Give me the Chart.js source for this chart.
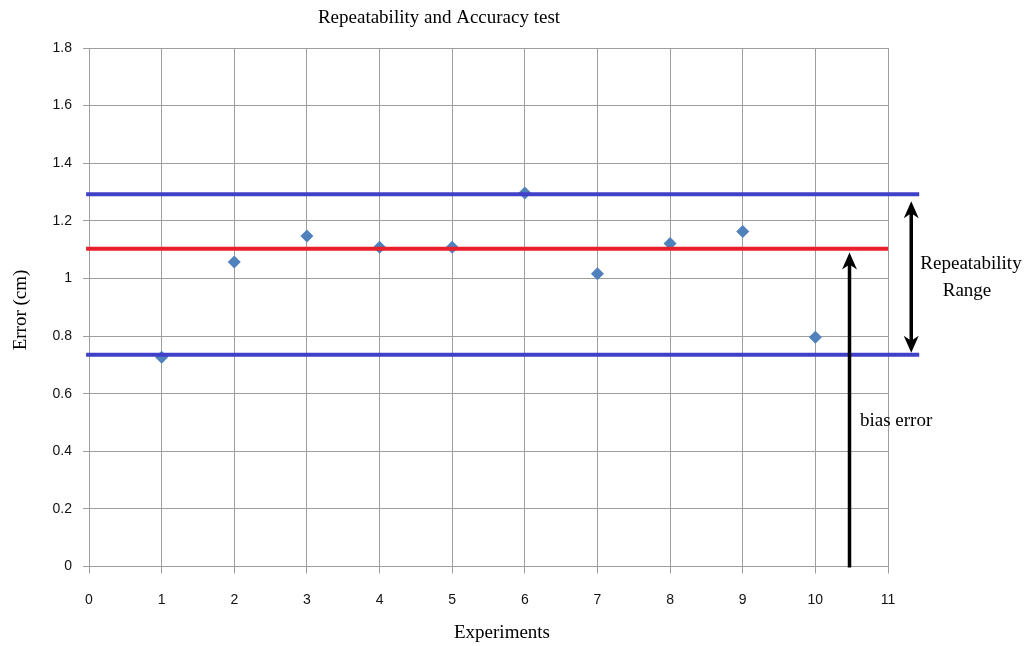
<!DOCTYPE html>
<html>
<head>
<meta charset="utf-8">
<title>Repeatability and Accuracy test</title>
<script src="https://cdn.jsdelivr.net/npm/chart.js@4/dist/chart.umd.min.js"></script>
<style>
  html, body { margin: 0; padding: 0; background: #ffffff; }
  #wrap { width: 1027px; height: 646px; position: relative; }
</style>
</head>
<body>
<div id="wrap"><canvas id="chart" width="1027" height="646"></canvas></div>
<script>
// Measured error for each experiment (cm)
const experiments = [1, 2, 3, 4, 5, 6, 7, 8, 9, 10];
const errors = [0.726, 1.057, 1.147, 1.108, 1.108, 1.297, 1.016, 1.121, 1.163, 0.796];

// Reference levels: upper / lower repeatability bound and mean (bias) level
const upperBound = 1.292;
const biasLevel = 1.103;
const lowerBound = 0.735;

// Horizontal extents of the reference lines (x units)
const boundSpan = [-0.04, 11.43];
const biasSpan = [-0.04, 11];

// Axis ticks
const xTicks = [0, 1, 2, 3, 4, 5, 6, 7, 8, 9, 10, 11];
const yTicks = [0, 0.2, 0.4, 0.6, 0.8, 1, 1.2, 1.4, 1.6, 1.8];

// Annotation arrows: x position and [from, to] in data units
const rangeArrow = { x: 11.32, from: 1.268, to: 0.742 };
const biasArrow = { x: 10.47, from: 0, to: 1.09 };

const serif = '"Liberation Serif", "Times New Roman", serif';
const sans = '"Liberation Sans", Arial, sans-serif';

function drawArrowHead(ctx, x, y, dir) {
  // dir: -1 points up, +1 points down
  const w = 7.5, len = 17;
  ctx.beginPath();
  ctx.moveTo(x, y);
  ctx.lineTo(x - w, y - dir * len);
  ctx.lineTo(x, y - dir * (len - 5));
  ctx.lineTo(x + w, y - dir * len);
  ctx.closePath();
  ctx.fill();
}

const annotations = {
  id: 'annotations',
  afterDraw(chart) {
    const ctx = chart.ctx;
    const xs = chart.scales.x, ys = chart.scales.y;
    ctx.save();
    ctx.fillStyle = '#000';
    ctx.strokeStyle = '#000';
    ctx.lineWidth = 3.5;

    // Double-headed arrow marking the repeatability range
    let ax = xs.getPixelForValue(rangeArrow.x);
    let yTop = ys.getPixelForValue(rangeArrow.from);
    let yBot = ys.getPixelForValue(rangeArrow.to);
    ctx.beginPath();
    ctx.moveTo(ax, yTop + 8);
    ctx.lineTo(ax, yBot - 8);
    ctx.stroke();
    drawArrowHead(ctx, ax, yTop, -1);
    drawArrowHead(ctx, ax, yBot, 1);

    // Single arrow from zero up to the mean level (bias)
    let bx = xs.getPixelForValue(biasArrow.x);
    let b0 = ys.getPixelForValue(biasArrow.from);
    let b1 = ys.getPixelForValue(biasArrow.to);
    ctx.beginPath();
    ctx.moveTo(bx, b0 + 1);
    ctx.lineTo(bx, b1 + 8);
    ctx.stroke();
    drawArrowHead(ctx, bx, b1, -1);

    // Texts
    ctx.fillStyle = '#000';
    ctx.font = '19px ' + serif;
    ctx.textBaseline = 'middle';
    ctx.textAlign = 'center';
    ctx.fillText('Repeatability and Accuracy test', 439, 18);
    ctx.fillText('Experiments', 502, 633);
    ctx.fillText('Repeatability', 971, 264);
    ctx.fillText('Range', 967, 291);
    ctx.textAlign = 'left';
    ctx.fillText('bias error', 860, 421);

    ctx.translate(21, 310);
    ctx.rotate(-Math.PI / 2);
    ctx.textAlign = 'center';
    ctx.fillText('Error (cm)', 0, 0);
    ctx.restore();
  }
};

function hLine(level, span, color) {
  return {
    type: 'line',
    data: [{ x: span[0], y: level }, { x: span[1], y: level }],
    borderColor: color,
    borderWidth: 4,
    pointRadius: 0,
    fill: false,
    clip: false,
    order: 0
  };
}

new Chart(document.getElementById('chart'), {
  type: 'scatter',
  data: {
    datasets: [
      {
        data: experiments.map((x, i) => ({ x: x, y: errors[i] })),
        pointStyle: 'rectRot',
        pointRadius: 6.5,
        backgroundColor: '#4f81bd',
        borderColor: '#4f81bd',
        borderWidth: 0,
        order: 1
      },
      hLine(upperBound, boundSpan, '#4040c8'),
      hLine(lowerBound, boundSpan, '#4040c8'),
      hLine(biasLevel, biasSpan, '#e8202a')
    ]
  },
  options: {
    responsive: false,
    animation: false,
    events: [],
    layout: { padding: { left: 0, top: 48, right: 139, bottom: 0 } },
    plugins: {
      legend: { display: false },
      title: { display: false },
      tooltip: { enabled: false }
    },
    scales: {
      x: {
        type: 'linear',
        min: xTicks[0],
        max: xTicks[xTicks.length - 1],
        afterBuildTicks: (s) => { s.ticks = xTicks.map(v => ({ value: v })); },
        afterFit: (s) => { s.height = 79.5; },
        ticks: {
          color: '#111111',
          font: { family: sans, size: 14 },
          padding: 18,
          maxRotation: 0,
          callback: (v) => String(v)
        },
        grid: { color: '#9e9e9e', lineWidth: 1, tickLength: 7, drawTicks: true },
        border: { color: '#9e9e9e', width: 1 }
      },
      y: {
        type: 'linear',
        min: yTicks[0],
        max: yTicks[yTicks.length - 1],
        afterBuildTicks: (s) => { s.ticks = yTicks.map(v => ({ value: v })); },
        afterFit: (s) => { s.width = 89; },
        ticks: {
          color: '#111111',
          font: { family: sans, size: 14 },
          padding: 11,
          callback: (v) => String(+v.toFixed(1))
        },
        grid: { color: '#9e9e9e', lineWidth: 1, tickLength: 6, drawTicks: true },
        border: { color: '#9e9e9e', width: 1 }
      }
    }
  },
  plugins: [annotations]
});
</script>
</body>
</html>
